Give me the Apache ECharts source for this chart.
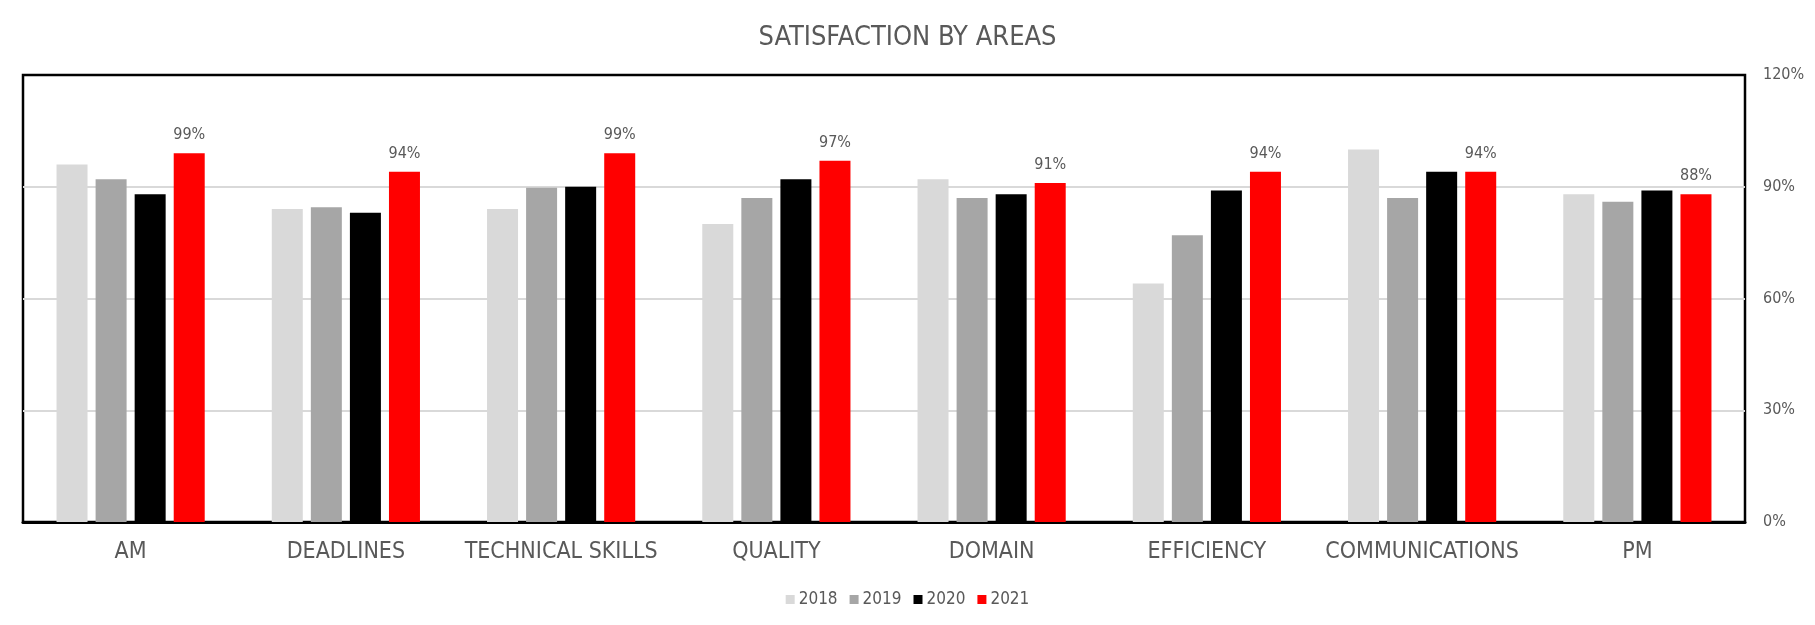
<!DOCTYPE html>
<html>
<head>
<meta charset="utf-8">
<script src="https://cdn.jsdelivr.net/npm/echarts@6/dist/echarts.min.js"></script>
<style>
html,body{margin:0;padding:0;background:#fff;}
#chart{width:1815px;height:625px;}
</style>
</head>
<body>
<div id="chart"></div>
<script>
const categories = ['AM', 'DEADLINES', 'TECHNICAL SKILLS', 'QUALITY', 'DOMAIN', 'EFFICIENCY', 'COMMUNICATIONS', 'PM'];
const years = ['2018', '2019', '2020', '2021'];
const values2018 = [0.96, 0.84, 0.84, 0.80, 0.92, 0.64, 1.00, 0.88];
const values2019 = [0.92, 0.845, 0.897, 0.87, 0.87, 0.77, 0.87, 0.86];
const values2020 = [0.88, 0.83, 0.90, 0.92, 0.88, 0.89, 0.94, 0.89];
const values2021 = [0.99, 0.94, 0.99, 0.97, 0.91, 0.94, 0.94, 0.88];
const yTicks = [0, 0.3, 0.6, 0.9, 1.2];

const FONT = "'Liberation Sans Narrow', 'Arial Narrow', 'DejaVu Sans Condensed', sans-serif";
const TXT = '#595959';
const colors = ['#D9D9D9', '#A6A6A6', '#000000', '#FF0000'];
const seriesValues = [values2018, values2019, values2020, values2021];

const chart = echarts.init(document.getElementById('chart'));
chart.setOption({
  animation: false,
  backgroundColor: '#fff',
  title: {
    text: 'SATISFACTION BY AREAS',
    left: 'center',
    top: 19,
    textStyle: { fontFamily: FONT, fontSize: 27, fontWeight: 'normal', color: TXT }
  },
  legend: {
    data: years,
    left: 'center',
    top: 586,
    itemWidth: 9,
    itemHeight: 9,
    itemGap: 12,
    icon: 'rect',
    textStyle: { fontFamily: FONT, fontSize: 17, color: TXT, padding: [0, 0, 0, -1] }
  },
  grid: {
    left: 23, right: 70, top: 75, bottom: 103,
    show: true, borderColor: '#000', borderWidth: 2.5, containLabel: false
  },
  xAxis: {
    type: 'category',
    data: categories,
    axisLine: { show: true, lineStyle: { color: '#000', width: 3 } },
    axisTick: { show: false },
    axisLabel: { fontFamily: FONT, fontSize: 23, color: TXT, margin: 19, interval: 0 }
  },
  yAxis: {
    type: 'value',
    position: 'right',
    min: 0, max: 1.2, interval: 0.3,
    axisLine: { show: false },
    axisTick: { show: false },
    splitLine: { showMinLine: false, showMaxLine: false, lineStyle: { color: '#D9D9D9', width: 2 } },
    axisLabel: {
      fontFamily: FONT, fontSize: 16, color: TXT, margin: 18,
      formatter: v => {
        const t = yTicks.find(x => Math.abs(x - v) < 1e-9);
        return Math.round((t !== undefined ? t : v) * 100) + '%';
      }
    }
  },
  series: years.map((y, i) => ({
    name: y,
    type: 'bar',
    data: seriesValues[i],
    barWidth: 31,
    barGap: '26%',
    itemStyle: { color: colors[i] },
    label: i === 3 ? {
      show: true, position: 'top', distance: 10,
      fontFamily: FONT, fontSize: 16, color: TXT,
      formatter: p => Math.round(p.value * 100) + '%'
    } : { show: false }
  }))
});
</script>
</body>
</html>
